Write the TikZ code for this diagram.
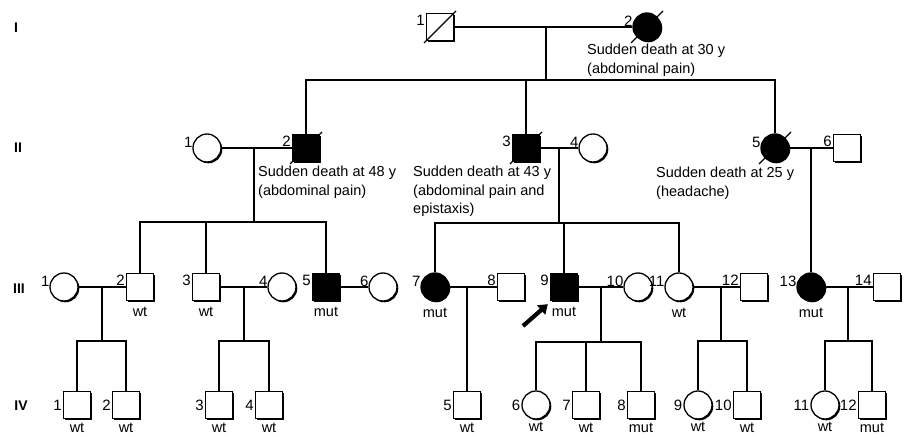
\documentclass[tikz,border=0pt]{standalone}
\usepackage{fontspec}
\setmainfont{Liberation Sans}
\usetikzlibrary{shadows,arrows.meta}
\begin{document}
\begin{tikzpicture}[x=1pt,y=-1pt,
  base/.style={draw, line width=1.3pt, inner sep=0pt, fill=white,
    drop shadow={shadow xshift=1.3pt, shadow yshift=-1.3pt, opacity=1, fill=black}},
  male/.style={base, rectangle, minimum size=27pt},
  female/.style={base, circle, minimum size=28pt},
  aff/.style={fill=black},
  num/.style={font=\fontsize{15}{15}\selectfont, inner sep=1pt, anchor=east},
  gt/.style={font=\fontsize{14.5}{15}\selectfont, inner sep=0.5pt, label distance=5.5pt},
  gtiv/.style={gt, label distance=3pt},
  gtivc/.style={gt, label distance=2pt},
  gen/.style={font=\bfseries\fontsize{14}{14}\selectfont, inner sep=0pt},
  note/.style={font=\fontsize{14.5}{18.5}\selectfont, inner sep=0pt, align=left, anchor=north west},
  line/.style={line width=1.4pt},
  slash/.style={line width=1.2pt},
  proband/.style={line width=4.2pt, -{Triangle[length=9pt,width=12pt]}}
]
\useasboundingbox (0,0) rectangle (906,436);

% generation labels
\node[gen] (g1) at (16,28) {I};
\node[gen] (g2) at (18,148) {II};
\node[gen] (g3) at (19,289) {III};
\node[gen] (g4) at (21,406) {IV};

% Generation I
\node[male, label={[num]156:1}] (I1) at (440,27) {};
\node[female, aff, label={[num]156:2}] (I2) at (647,27) {};

% Generation II
\node[female, label={[num]156:1}] (II1) at (207,148) {};
\node[male, aff, label={[num]156:2}] (II2) at (306,148) {};
\node[male, aff, label={[num]156:3}] (II3) at (526,148) {};
\node[female, label={[num]156:4}] (II4) at (593,148) {};
\node[female, aff, label={[num]156:5}] (II5) at (775,148) {};
\node[male, label={[num]156:6}] (II6) at (847,148) {};

% Generation III
\node[female, label={[num]156:1}] (III1) at (64,287) {};
\node[male, label={[num]156:2}, label={[gt]below:wt}] (III2) at (140,287) {};
\node[male, label={[num]156:3}, label={[gt]below:wt}] (III3) at (206,287) {};
\node[female, label={[num]156:4}] (III4) at (282,287) {};
\node[male, aff, label={[num]156:5}, label={[gt]below:mut}] (III5) at (326,287) {};
\node[female, label={[num]156:6}] (III6) at (383,287) {};
\node[female, aff, label={[num]156:7}, label={[gt]below:mut}] (III7) at (435,287) {};
\node[male, label={[num]156:8}] (III8) at (511,287) {};
\node[male, aff, label={[num]156:9}, label={[gt]below:mut}] (III9) at (564,287) {};
\node[female, label={[num]156:10}] (III10) at (638,287) {};
\node[female, label={[num]156:11}, label={[gt]below:wt}] (III11) at (679,287) {};
\node[male, label={[num]156:12}] (III12) at (754,287) {};
\node[female, aff, label={[num]156:13}, label={[gt]below:mut}] (III13) at (811,287) {};
\node[male, label={[num]156:14}] (III14) at (887,287) {};

% Generation IV
\node[male, label={[num]180:1}, label={[gtiv]below:wt}] (IV1) at (77,405) {};
\node[male, label={[num]180:2}, label={[gtiv]below:wt}] (IV2) at (126,405) {};
\node[male, label={[num]180:3}, label={[gtiv]below:wt}] (IV3) at (219,405) {};
\node[male, label={[num]180:4}, label={[gtiv]below:wt}] (IV4) at (269,405) {};
\node[male, label={[num]180:5}, label={[gtiv]below:wt}] (IV5) at (467,405) {};
\node[female, label={[num]180:6}, label={[gtivc]below:wt}] (IV6) at (536,405) {};
\node[male, label={[num]180:7}, label={[gtiv]below:wt}] (IV7) at (586,405) {};
\node[male, label={[num]180:8}, label={[gtiv]below:mut}] (IV8) at (641,405) {};
\node[female, label={[num]180:9}, label={[gtivc]below:wt}] (IV9) at (698,405) {};
\node[male, label={[num]180:10}, label={[gtiv]below:wt}] (IV10) at (747,405) {};
\node[female, label={[num]180:11}, label={[gtivc]below:wt}] (IV11) at (825,405) {};
\node[male, label={[num]180:12}, label={[gtiv]below:mut}] (IV12) at (872,405) {};

% notes
\node[note] (t1) at (587,44) {Sudden death at 30 y\\(abdominal pain)};
\node[note] (t2) at (258,166) {Sudden death at 48 y\\(abdominal pain)};
\node[note] (t3) at (413,166) {Sudden death at 43 y\\(abdominal pain and\\epistaxis)};
\node[note] (t4) at (656,167) {Sudden death at 25 y\\(headache)};

% marriage / descent coordinates
\coordinate (m1) at (546,27);   \coordinate (s1) at (546,80);
\coordinate (m2) at (254,148);  \coordinate (s2) at (254,222);
\coordinate (m3) at (559,148);  \coordinate (s3) at (559,223);
\coordinate (m4) at (811,148);
\coordinate (m5) at (102,287);  \coordinate (s5) at (102,341);
\coordinate (m6) at (244,287);  \coordinate (s6) at (244,341);
\coordinate (m8) at (467,287);
\coordinate (m9) at (601,287);  \coordinate (s9) at (601,342);
\coordinate (m10) at (721,287); \coordinate (s10) at (721,341);
\coordinate (m11) at (848,287); \coordinate (s11) at (848,341);

% connectors
\draw[line] (I1.east) -- (I2.west);
\draw[line] (m1) -- (s1);
\draw[line] (II2.north) -- (II2.north |- s1) -- (II5.north |- s1) -- (II5.north);
\draw[line] (II3.north) -- (II3.north |- s1);

\draw[line] (II1.east) -- (II2.west);
\draw[line] (m2) -- (s2);
\draw[line] (III2.north) -- (III2.north |- s2) -- (III5.north |- s2) -- (III5.north);
\draw[line] (III3.north) -- (III3.north |- s2);

\draw[line] (II3.east) -- (II4.west);
\draw[line] (m3) -- (s3);
\draw[line] (III7.north) -- (III7.north |- s3) -- (III11.north |- s3) -- (III11.north);
\draw[line] (III9.north) -- (III9.north |- s3);

\draw[line] (II5.east) -- (II6.west);
\draw[line] (m4) -- (III13.north);

\draw[line] (III1.east) -- (III2.west);
\draw[line] (m5) -- (s5);
\draw[line] (IV1.north) -- (IV1.north |- s5) -- (IV2.north |- s5) -- (IV2.north);

\draw[line] (III3.east) -- (III4.west);
\draw[line] (m6) -- (s6);
\draw[line] (IV3.north) -- (IV3.north |- s6) -- (IV4.north |- s6) -- (IV4.north);

\draw[line] (III5.east) -- (III6.west);

\draw[line] (III7.east) -- (III8.west);
\draw[line] (m8) -- (IV5.north);

\draw[line] (III9.east) -- (III10.west);
\draw[line] (m9) -- (s9);
\draw[line] (IV6.north) -- (IV6.north |- s9) -- (IV8.north |- s9) -- (IV8.north);
\draw[line] (IV7.north) -- (IV7.north |- s9);

\draw[line] (III11.east) -- (III12.west);
\draw[line] (m10) -- (s10);
\draw[line] (IV9.north) -- (IV9.north |- s10) -- (IV10.north |- s10) -- (IV10.north);

\draw[line] (III13.east) -- (III14.west);
\draw[line] (m11) -- (s11);
\draw[line] (IV11.north) -- (IV11.north |- s11) -- (IV12.north |- s11) -- (IV12.north);

% deceased slashes
\foreach \n in {I1,I2,II2,II3,II5}{
  \draw[slash] ([shift={(-16,16)}]\n.center) -- ([shift={(16,-16)}]\n.center);
}

% proband arrow
\coordinate (pa) at (523,326);
\draw[proband] (pa) -- ([shift={(-2,3)}]III9.south west);
\end{tikzpicture}
\end{document}
